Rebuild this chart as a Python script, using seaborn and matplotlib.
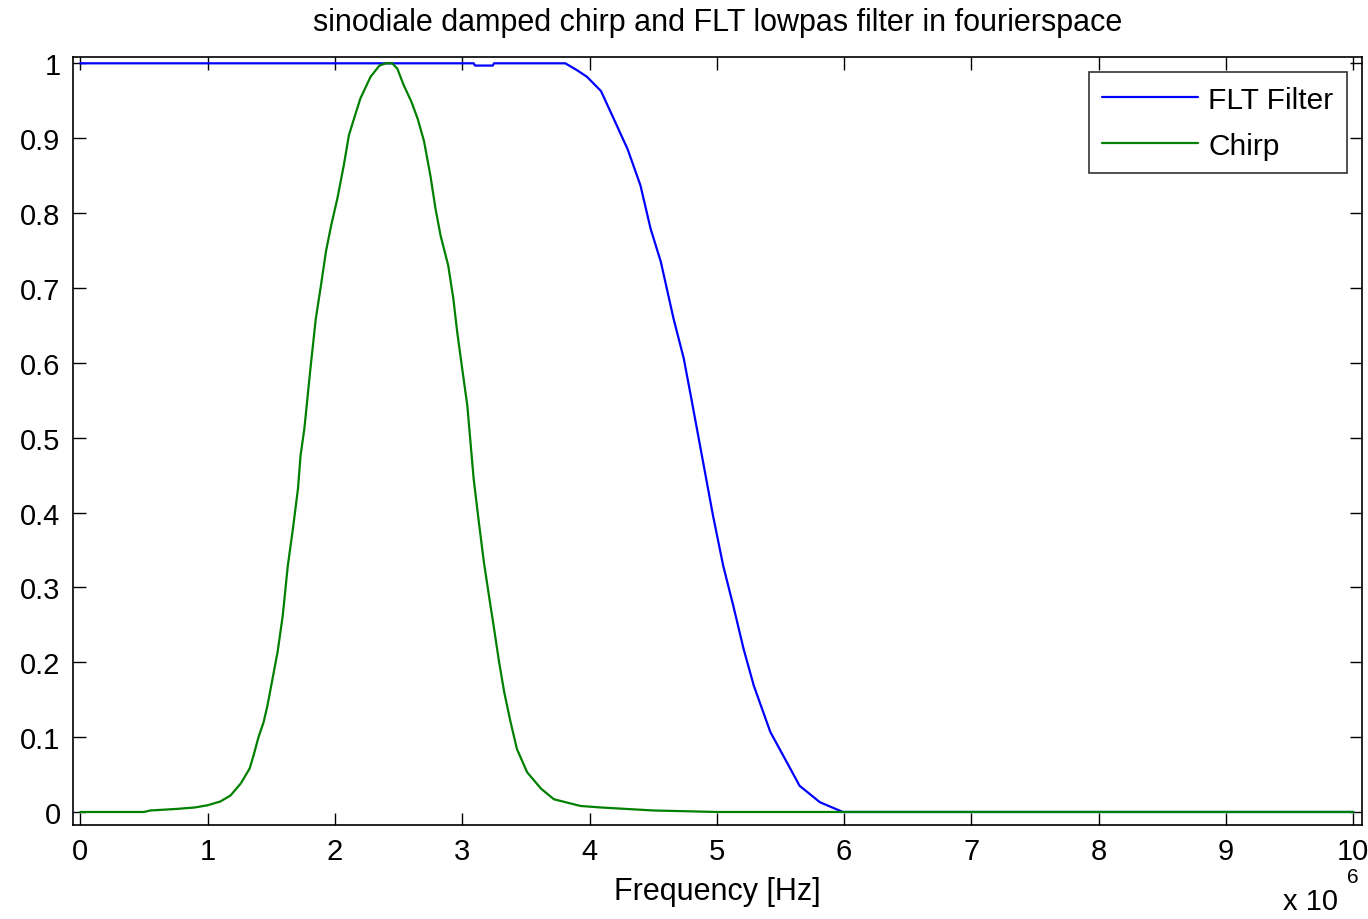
import numpy as np
import pandas as pd
import matplotlib
matplotlib.use("Agg")
import matplotlib.pyplot as plt
import seaborn as sns

# Frequencies in units of 1e6 Hz
filter_freq = [0.0, 3.09, 3.10, 3.24, 3.25, 3.81, 3.90, 3.98, 4.09, 4.19, 4.30, 4.40,
               4.48, 4.56, 4.66, 4.74, 4.80, 4.97, 5.05, 5.13, 5.21, 5.29, 5.42,
               5.58, 5.65, 5.81, 5.99, 10.0]
filter_amp = [1.0, 1.0, 0.997, 0.997, 1.0, 1.0, 0.991, 0.982, 0.963, 0.926, 0.885, 0.837,
              0.779, 0.735, 0.659, 0.606, 0.552, 0.396, 0.329, 0.275, 0.218, 0.169, 0.107,
              0.057, 0.035, 0.013, 0.0, 0.0]

chirp_freq = [0.0, 0.5, 0.55, 0.75, 0.9, 1.0, 1.1, 1.18, 1.26, 1.33, 1.36, 1.40, 1.44,
              1.47, 1.51, 1.55, 1.59, 1.63, 1.67, 1.71, 1.73, 1.76, 1.81, 1.85, 1.89,
              1.93, 1.97, 2.02, 2.07, 2.11, 2.15, 2.20, 2.28, 2.35, 2.40, 2.45, 2.49,
              2.54, 2.60, 2.65, 2.70, 2.75, 2.79, 2.83, 2.89, 2.93, 2.96, 3.00, 3.04,
              3.09, 3.13, 3.17, 3.21, 3.25, 3.29, 3.33, 3.38, 3.43, 3.51, 3.62, 3.72,
              3.93, 4.09, 4.50, 5.00, 10.0]
chirp_amp = [0.0, 0.0, 0.002, 0.004, 0.006, 0.009, 0.014, 0.022, 0.038, 0.058, 0.075,
             0.100, 0.120, 0.142, 0.178, 0.214, 0.262, 0.329, 0.378, 0.432, 0.476, 0.512,
             0.596, 0.659, 0.703, 0.749, 0.783, 0.820, 0.864, 0.904, 0.926, 0.953, 0.982,
             0.997, 1.0, 1.0, 0.993, 0.971, 0.949, 0.926, 0.896, 0.850, 0.806, 0.770,
             0.730, 0.686, 0.642, 0.592, 0.543, 0.445, 0.388, 0.334, 0.289, 0.245, 0.200,
             0.160, 0.120, 0.084, 0.053, 0.031, 0.017, 0.008, 0.006, 0.002, 0.0, 0.0]

series_names = ["FLT Filter", "Chirp"]
x_ticks = [0, 1, 2, 3, 4, 5, 6, 7, 8, 9, 10]
y_ticks = [0, 0.1, 0.2, 0.3, 0.4, 0.5, 0.6, 0.7, 0.8, 0.9, 1]
y_tick_labels = ["0", "0.1", "0.2", "0.3", "0.4", "0.5", "0.6", "0.7", "0.8", "0.9", "1"]

df = pd.concat([
    pd.DataFrame({"freq": filter_freq, "amp": filter_amp, "series": series_names[0]}),
    pd.DataFrame({"freq": chirp_freq, "amp": chirp_amp, "series": series_names[1]}),
], ignore_index=True)

sns.set_theme(style="ticks")
plt.rcParams["font.family"] = ["Liberation Sans", "DejaVu Sans"]
plt.rcParams["axes.edgecolor"] = "black"
plt.rcParams["axes.linewidth"] = 1.2
plt.rcParams["text.color"] = "black"
plt.rcParams["axes.labelcolor"] = "black"
plt.rcParams["xtick.color"] = "black"
plt.rcParams["ytick.color"] = "black"

fig = plt.figure(figsize=(13.68, 9.2), dpi=100)
fig.patch.set_facecolor("white")
ax = fig.add_axes([0.0534, 0.1025, 0.9422, 0.8341])

sns.lineplot(data=df, x="freq", y="amp", hue="series", hue_order=series_names,
             palette={"FLT Filter": "#0000FF", "Chirp": "#008000"},
             linewidth=1.6, ax=ax, sort=False, estimator=None)

ax.set_xlim(-0.057, 10.068)
ax.set_ylim(-0.017, 1.008)
ax.set_xticks(x_ticks)
ax.set_xticklabels([str(t) for t in x_ticks])
ax.set_yticks(y_ticks)
ax.set_yticklabels(y_tick_labels)
ax.tick_params(axis="both", which="major", direction="in", length=9, width=1.0,
               labelsize=21, colors="black", top=True, right=True, pad=9)
for s in ax.spines.values():
    s.set_visible(True)
    s.set_color("black")
    s.set_linewidth(1.2)

ax.set_xlabel("Frequency [Hz]", fontsize=22, labelpad=8, color="black")
ax.set_ylabel("")
ax.set_title("sinodiale damped chirp and FLT lowpas filter in fourierspace",
             fontsize=22, pad=20, color="black")

fig.text(0.978, 0.004, "x 10", fontsize=21, ha="right", va="bottom", color="black")
fig.text(0.985, 0.036, "6", fontsize=15, ha="left", va="bottom", color="black")

leg = ax.legend(loc="upper right", fontsize=21.5, handlelength=3.2, handletextpad=0.35,
                borderaxespad=0.5, frameon=True, fancybox=False, borderpad=0.45,
                labelspacing=0.6)
leg.get_frame().set_edgecolor("black")
leg.get_frame().set_linewidth(1.2)
for t in leg.get_texts():
    t.set_color("black")

fig.savefig("out.png", dpi=100, facecolor="white")
